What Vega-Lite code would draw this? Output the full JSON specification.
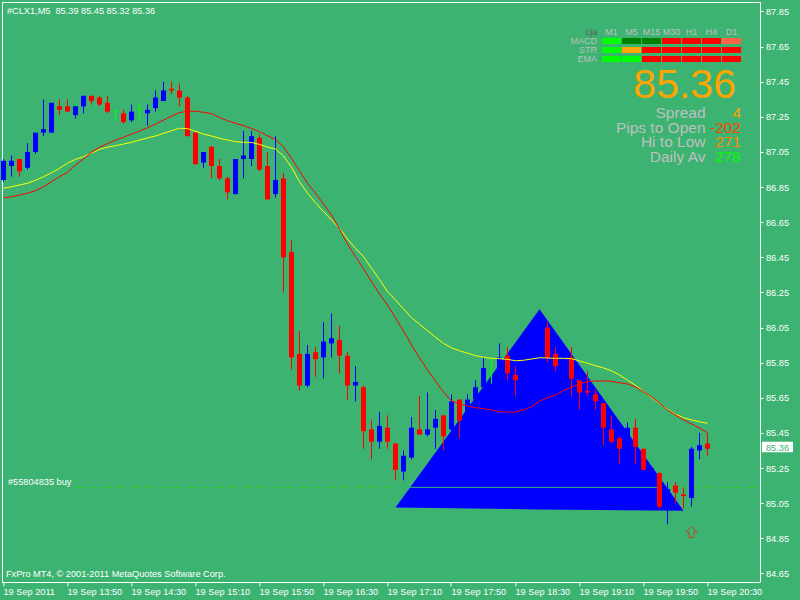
{
  "$schema": "https://vega.github.io/schema/vega-lite/v6.json",
  "width": 758,
  "height": 580,
  "autosize": {"type": "none"},
  "padding": {"left": 2, "top": 2, "right": 40, "bottom": 18},
  "background": "#3CB371",
  "config": {
    "view": {"stroke": null},
    "text": {"font": "Liberation Sans"},
    "axis": {"grid": false, "labelFont": "Liberation Sans", "labelFontSize": 9.2, "labelColor": "#FFFFFF", "domainColor": "#FFFFFF", "tickColor": "#FFFFFF", "domainWidth": 1, "tickWidth": 1}
  },
  "datasets": {
    "bars": [
      {"t":"2011-09-19T13:10","open":86.89,"high":87.01,"low":86.88,"close":87.00,"ma_fast":86.790,"ma_slow":86.843},
      {"t":"2011-09-19T13:15","open":86.97,"high":87.03,"low":86.91,"close":87.00,"ma_fast":86.795,"ma_slow":86.852},
      {"t":"2011-09-19T13:20","open":87.01,"high":87.01,"low":86.91,"close":86.94,"ma_fast":86.805,"ma_slow":86.862},
      {"t":"2011-09-19T13:25","open":86.96,"high":87.10,"low":86.95,"close":87.05,"ma_fast":86.815,"ma_slow":86.872},
      {"t":"2011-09-19T13:30","open":87.05,"high":87.16,"low":87.04,"close":87.16,"ma_fast":86.830,"ma_slow":86.889},
      {"t":"2011-09-19T13:35","open":87.16,"high":87.35,"low":87.14,"close":87.18,"ma_fast":86.852,"ma_slow":86.909},
      {"t":"2011-09-19T13:40","open":87.16,"high":87.33,"low":87.16,"close":87.33,"ma_fast":86.881,"ma_slow":86.932},
      {"t":"2011-09-19T13:45","open":87.31,"high":87.35,"low":87.26,"close":87.29,"ma_fast":86.909,"ma_slow":86.957},
      {"t":"2011-09-19T13:50","open":87.31,"high":87.35,"low":87.28,"close":87.28,"ma_fast":86.934,"ma_slow":86.986},
      {"t":"2011-09-19T13:55","open":87.26,"high":87.31,"low":87.24,"close":87.31,"ma_fast":86.976,"ma_slow":87.008},
      {"t":"2011-09-19T14:00","open":87.31,"high":87.37,"low":87.27,"close":87.37,"ma_fast":87.010,"ma_slow":87.023},
      {"t":"2011-09-19T14:05","open":87.37,"high":87.37,"low":87.32,"close":87.34,"ma_fast":87.048,"ma_slow":87.043},
      {"t":"2011-09-19T14:10","open":87.36,"high":87.37,"low":87.31,"close":87.32,"ma_fast":87.077,"ma_slow":87.065},
      {"t":"2011-09-19T14:15","open":87.33,"high":87.37,"low":87.27,"close":87.28,"ma_fast":87.097,"ma_slow":87.077},
      {"t":"2011-09-19T14:20","open":87.28,"high":87.29,"low":87.23,"close":87.28,"ma_fast":87.118,"ma_slow":87.086},
      {"t":"2011-09-19T14:25","open":87.27,"high":87.29,"low":87.21,"close":87.22,"ma_fast":87.134,"ma_slow":87.095},
      {"t":"2011-09-19T14:30","open":87.23,"high":87.32,"low":87.22,"close":87.28,"ma_fast":87.152,"ma_slow":87.105},
      {"t":"2011-09-19T14:35","open":87.29,"high":87.33,"low":87.23,"close":87.29,"ma_fast":87.169,"ma_slow":87.118},
      {"t":"2011-09-19T14:40","open":87.27,"high":87.32,"low":87.20,"close":87.29,"ma_fast":87.188,"ma_slow":87.130},
      {"t":"2011-09-19T14:45","open":87.30,"high":87.40,"low":87.28,"close":87.36,"ma_fast":87.209,"ma_slow":87.141},
      {"t":"2011-09-19T14:50","open":87.34,"high":87.45,"low":87.34,"close":87.40,"ma_fast":87.232,"ma_slow":87.156},
      {"t":"2011-09-19T14:55","open":87.41,"high":87.45,"low":87.38,"close":87.40,"ma_fast":87.255,"ma_slow":87.171},
      {"t":"2011-09-19T15:00","open":87.40,"high":87.44,"low":87.31,"close":87.36,"ma_fast":87.274,"ma_slow":87.185},
      {"t":"2011-09-19T15:05","open":87.36,"high":87.37,"low":87.14,"close":87.14,"ma_fast":87.282,"ma_slow":87.183},
      {"t":"2011-09-19T15:10","open":87.16,"high":87.16,"low":86.98,"close":86.98,"ma_fast":87.282,"ma_slow":87.168},
      {"t":"2011-09-19T15:15","open":86.99,"high":87.05,"low":86.96,"close":87.05,"ma_fast":87.276,"ma_slow":87.152},
      {"t":"2011-09-19T15:20","open":87.08,"high":87.08,"low":86.90,"close":86.97,"ma_fast":87.268,"ma_slow":87.141},
      {"t":"2011-09-19T15:25","open":86.97,"high":87.01,"low":86.89,"close":86.90,"ma_fast":87.247,"ma_slow":87.128},
      {"t":"2011-09-19T15:30","open":86.90,"high":86.91,"low":86.78,"close":86.82,"ma_fast":87.228,"ma_slow":87.118},
      {"t":"2011-09-19T15:35","open":86.81,"high":87.01,"low":86.81,"close":87.01,"ma_fast":87.213,"ma_slow":87.109},
      {"t":"2011-09-19T15:40","open":87.01,"high":87.17,"low":86.90,"close":87.03,"ma_fast":87.200,"ma_slow":87.105},
      {"t":"2011-09-19T15:45","open":87.01,"high":87.17,"low":86.97,"close":87.14,"ma_fast":87.184,"ma_slow":87.104},
      {"t":"2011-09-19T15:50","open":87.13,"high":87.15,"low":86.94,"close":86.95,"ma_fast":87.165,"ma_slow":87.093},
      {"t":"2011-09-19T15:55","open":86.97,"high":87.05,"low":86.78,"close":86.78,"ma_fast":87.142,"ma_slow":87.078},
      {"t":"2011-09-19T16:00","open":86.81,"high":87.14,"low":86.79,"close":86.89,"ma_fast":87.122,"ma_slow":87.067},
      {"t":"2011-09-19T16:05","open":86.90,"high":86.93,"low":86.25,"close":86.45,"ma_fast":87.080,"ma_slow":87.027},
      {"t":"2011-09-19T16:10","open":86.48,"high":86.55,"low":85.81,"close":85.88,"ma_fast":87.014,"ma_slow":86.963},
      {"t":"2011-09-19T16:15","open":85.90,"high":86.03,"low":85.69,"close":85.72,"ma_fast":86.943,"ma_slow":86.881},
      {"t":"2011-09-19T16:20","open":85.72,"high":85.95,"low":85.71,"close":85.90,"ma_fast":86.872,"ma_slow":86.815},
      {"t":"2011-09-19T16:25","open":85.91,"high":85.94,"low":85.77,"close":85.87,"ma_fast":86.815,"ma_slow":86.761},
      {"t":"2011-09-19T16:30","open":85.88,"high":86.08,"low":85.76,"close":85.97,"ma_fast":86.754,"ma_slow":86.710},
      {"t":"2011-09-19T16:35","open":85.96,"high":86.13,"low":85.88,"close":85.99,"ma_fast":86.691,"ma_slow":86.663},
      {"t":"2011-09-19T16:40","open":85.98,"high":86.06,"low":85.79,"close":85.89,"ma_fast":86.611,"ma_slow":86.615},
      {"t":"2011-09-19T16:45","open":85.89,"high":85.91,"low":85.64,"close":85.72,"ma_fast":86.526,"ma_slow":86.554},
      {"t":"2011-09-19T16:50","open":85.72,"high":85.83,"low":85.63,"close":85.74,"ma_fast":86.454,"ma_slow":86.501},
      {"t":"2011-09-19T16:55","open":85.71,"high":85.72,"low":85.36,"close":85.46,"ma_fast":86.385,"ma_slow":86.454},
      {"t":"2011-09-19T17:00","open":85.47,"high":85.52,"low":85.30,"close":85.40,"ma_fast":86.312,"ma_slow":86.388},
      {"t":"2011-09-19T17:05","open":85.40,"high":85.57,"low":85.36,"close":85.49,"ma_fast":86.241,"ma_slow":86.324},
      {"t":"2011-09-19T17:10","open":85.48,"high":85.55,"low":85.36,"close":85.40,"ma_fast":86.179,"ma_slow":86.254},
      {"t":"2011-09-19T17:15","open":85.39,"high":85.39,"low":85.18,"close":85.24,"ma_fast":86.105,"ma_slow":86.207},
      {"t":"2011-09-19T17:20","open":85.23,"high":85.35,"low":85.18,"close":85.32,"ma_fast":86.031,"ma_slow":86.156},
      {"t":"2011-09-19T17:25","open":85.31,"high":85.54,"low":85.30,"close":85.48,"ma_fast":85.951,"ma_slow":86.106},
      {"t":"2011-09-19T17:30","open":85.47,"high":85.66,"low":85.44,"close":85.44,"ma_fast":85.877,"ma_slow":86.069},
      {"t":"2011-09-19T17:35","open":85.44,"high":85.68,"low":85.43,"close":85.47,"ma_fast":85.808,"ma_slow":86.032},
      {"t":"2011-09-19T17:40","open":85.48,"high":85.58,"low":85.36,"close":85.53,"ma_fast":85.746,"ma_slow":85.995},
      {"t":"2011-09-19T17:45","open":85.55,"high":85.55,"low":85.35,"close":85.43,"ma_fast":85.683,"ma_slow":85.960},
      {"t":"2011-09-19T17:50","open":85.47,"high":85.67,"low":85.41,"close":85.63,"ma_fast":85.632,"ma_slow":85.935},
      {"t":"2011-09-19T17:55","open":85.64,"high":85.64,"low":85.42,"close":85.52,"ma_fast":85.615,"ma_slow":85.918},
      {"t":"2011-09-19T18:00","open":85.52,"high":85.67,"low":85.50,"close":85.64,"ma_fast":85.603,"ma_slow":85.904},
      {"t":"2011-09-19T18:05","open":85.64,"high":85.75,"low":85.61,"close":85.71,"ma_fast":85.594,"ma_slow":85.890},
      {"t":"2011-09-19T18:10","open":85.71,"high":85.88,"low":85.68,"close":85.82,"ma_fast":85.588,"ma_slow":85.881},
      {"t":"2011-09-19T18:15","open":85.80,"high":85.88,"low":85.73,"close":85.80,"ma_fast":85.581,"ma_slow":85.875},
      {"t":"2011-09-19T18:20","open":85.80,"high":85.96,"low":85.80,"close":85.88,"ma_fast":85.571,"ma_slow":85.873},
      {"t":"2011-09-19T18:25","open":85.89,"high":85.94,"low":85.75,"close":85.79,"ma_fast":85.569,"ma_slow":85.869},
      {"t":"2011-09-19T18:30","open":85.78,"high":85.83,"low":85.66,"close":85.75,"ma_fast":85.569,"ma_slow":85.861},
      {"t":"2011-09-19T18:35","open":85.75,"high":85.87,"low":85.73,"close":85.84,"ma_fast":85.581,"ma_slow":85.864},
      {"t":"2011-09-19T18:40","open":85.83,"high":85.98,"low":85.82,"close":85.95,"ma_fast":85.599,"ma_slow":85.871},
      {"t":"2011-09-19T18:45","open":85.95,"high":86.07,"low":85.92,"close":86.04,"ma_fast":85.632,"ma_slow":85.878},
      {"t":"2011-09-19T18:50","open":86.05,"high":86.08,"low":85.85,"close":85.88,"ma_fast":85.649,"ma_slow":85.877},
      {"t":"2011-09-19T18:55","open":85.90,"high":85.94,"low":85.80,"close":85.83,"ma_fast":85.666,"ma_slow":85.875},
      {"t":"2011-09-19T19:00","open":85.83,"high":85.92,"low":85.80,"close":85.88,"ma_fast":85.691,"ma_slow":85.875},
      {"t":"2011-09-19T19:05","open":85.88,"high":85.94,"low":85.66,"close":85.76,"ma_fast":85.712,"ma_slow":85.873},
      {"t":"2011-09-19T19:10","open":85.75,"high":85.75,"low":85.58,"close":85.68,"ma_fast":85.729,"ma_slow":85.860},
      {"t":"2011-09-19T19:15","open":85.69,"high":85.80,"low":85.66,"close":85.68,"ma_fast":85.742,"ma_slow":85.847},
      {"t":"2011-09-19T19:20","open":85.67,"high":85.70,"low":85.58,"close":85.63,"ma_fast":85.746,"ma_slow":85.833},
      {"t":"2011-09-19T19:25","open":85.62,"high":85.62,"low":85.38,"close":85.48,"ma_fast":85.746,"ma_slow":85.820},
      {"t":"2011-09-19T19:30","open":85.47,"high":85.55,"low":85.39,"close":85.40,"ma_fast":85.744,"ma_slow":85.804},
      {"t":"2011-09-19T19:35","open":85.42,"high":85.43,"low":85.27,"close":85.36,"ma_fast":85.736,"ma_slow":85.780},
      {"t":"2011-09-19T19:40","open":85.36,"high":85.51,"low":85.34,"close":85.48,"ma_fast":85.729,"ma_slow":85.751},
      {"t":"2011-09-19T19:45","open":85.48,"high":85.53,"low":85.27,"close":85.37,"ma_fast":85.712,"ma_slow":85.721},
      {"t":"2011-09-19T19:50","open":85.36,"high":85.36,"low":85.24,"close":85.24,"ma_fast":85.685,"ma_slow":85.687},
      {"t":"2011-09-19T19:55","open":85.22,"high":85.26,"low":85.17,"close":85.25,"ma_fast":85.655,"ma_slow":85.651},
      {"t":"2011-09-19T20:00","open":85.22,"high":85.23,"low":85.02,"close":85.03,"ma_fast":85.621,"ma_slow":85.619},
      {"t":"2011-09-19T20:05","open":85.04,"high":85.17,"low":84.93,"close":85.13,"ma_fast":85.581,"ma_slow":85.585},
      {"t":"2011-09-19T20:10","open":85.15,"high":85.17,"low":85.05,"close":85.11,"ma_fast":85.552,"ma_slow":85.556},
      {"t":"2011-09-19T20:15","open":85.10,"high":85.14,"low":85.02,"close":85.09,"ma_fast":85.524,"ma_slow":85.537},
      {"t":"2011-09-19T20:20","open":85.08,"high":85.37,"low":85.03,"close":85.36,"ma_fast":85.501,"ma_slow":85.524},
      {"t":"2011-09-19T20:25","open":85.35,"high":85.45,"low":85.30,"close":85.38,"ma_fast":85.478,"ma_slow":85.514},
      {"t":"2011-09-19T20:30","open":85.39,"high":85.45,"low":85.32,"close":85.36,"ma_fast":85.450,"ma_slow":85.505}
    ],
    "triangle": [
      {"t":"2011-09-19T17:15","top":85.026,"base":85.026},
      {"t":"2011-09-19T18:45","top":86.154,"base":85.014},
      {"t":"2011-09-19T20:15","top":85.007,"base":85.007}
    ],
    "cells": [
      {"ind":"MACD","tf":"M1","state":"up"},{"ind":"MACD","tf":"M5","state":"up_weak"},{"ind":"MACD","tf":"M15","state":"up_weak"},{"ind":"MACD","tf":"M30","state":"down"},{"ind":"MACD","tf":"H1","state":"down"},{"ind":"MACD","tf":"H4","state":"down"},{"ind":"MACD","tf":"D1","state":"down_weak"},
      {"ind":"STR","tf":"M1","state":"up"},{"ind":"STR","tf":"M5","state":"neutral"},{"ind":"STR","tf":"M15","state":"down"},{"ind":"STR","tf":"M30","state":"down"},{"ind":"STR","tf":"H1","state":"down"},{"ind":"STR","tf":"H4","state":"down"},{"ind":"STR","tf":"D1","state":"down"},
      {"ind":"EMA","tf":"M1","state":"up"},{"ind":"EMA","tf":"M5","state":"up"},{"ind":"EMA","tf":"M15","state":"down"},{"ind":"EMA","tf":"M30","state":"down"},{"ind":"EMA","tf":"H1","state":"down"},{"ind":"EMA","tf":"H4","state":"down"},{"ind":"EMA","tf":"D1","state":"down"}
    ],
    "timeframes": [{"tf":"M1"},{"tf":"M5"},{"tf":"M15"},{"tf":"M30"},{"tf":"H1"},{"tf":"H4"},{"tf":"D1"}],
    "indicators": [{"ind":"MACD"},{"ind":"STR"},{"ind":"EMA"}],
    "stats": [
      {"k":"Spread","v":"4"},
      {"k":"Pips to Open","v":"-202"},
      {"k":"Hi to Low","v":"271"},
      {"k":"Daily Av","v":"278"}
    ]
  },
  "resolve": {"scale": {"x": "independent", "y": "independent", "color": "independent"}, "axis": {"x": "independent", "y": "independent"}},
  "layer": [
    {
      "resolve": {"axis": {"x": "independent", "y": "independent"}},
      "layer": [
        {
          "data": {"values": [{}]},
          "mark": {"type": "rule", "color": "#32CD32", "strokeWidth": 1, "strokeDash": [9, 5]},
          "encoding": {
            "x": {"datum": {"year":2011,"month":9,"date":19,"hours":13,"minutes":54,"seconds":41}, "type": "temporal", "scale": {"type":"time","nice":false,"padding":0,"domain":[{"year":2011,"month":9,"date":19,"hours":13,"minutes":9,"seconds":3,"milliseconds":750},{"year":2011,"month":9,"date":19,"hours":21,"minutes":2,"seconds":48,"milliseconds":750}]}, "axis": null},
            "x2": {"datum": {"year":2011,"month":9,"date":19,"hours":21,"minutes":2,"seconds":48}},
            "y": {"datum": 85.14, "type": "quantitative", "scale": {"type":"linear","nice":false,"zero":false,"padding":0,"domain":[84.6011,87.9041]}, "axis": null}
          }
        },
        {
          "data": {"name": "triangle"},
          "mark": {"type": "area", "color": "#0000FF", "opacity": 1},
          "encoding": {
            "x": {"field": "t", "type": "temporal", "scale": {"type":"time","nice":false,"padding":0,"domain":[{"year":2011,"month":9,"date":19,"hours":13,"minutes":9,"seconds":3,"milliseconds":750},{"year":2011,"month":9,"date":19,"hours":21,"minutes":2,"seconds":48,"milliseconds":750}]}, "axis": null},
            "y": {"field": "top", "type": "quantitative", "scale": {"type":"linear","nice":false,"zero":false,"padding":0,"domain":[84.6011,87.9041]}, "axis": null},
            "y2": {"field": "base"}
          }
        },
        {
          "data": {"values": [{}]},
          "mark": {"type": "rule", "color": "#3CB371", "strokeWidth": 1},
          "encoding": {
            "x": {"datum": {"year":2011,"month":9,"date":19,"hours":17,"minutes":15}, "type": "temporal", "scale": {"type":"time","nice":false,"padding":0,"domain":[{"year":2011,"month":9,"date":19,"hours":13,"minutes":9,"seconds":3,"milliseconds":750},{"year":2011,"month":9,"date":19,"hours":21,"minutes":2,"seconds":48,"milliseconds":750}]}, "axis": null},
            "x2": {"datum": {"year":2011,"month":9,"date":19,"hours":20,"minutes":0}},
            "y": {"datum": 85.14, "type": "quantitative", "scale": {"type":"linear","nice":false,"zero":false,"padding":0,"domain":[84.6011,87.9041]}, "axis": null}
          }
        },
        {
          "data": {"name": "bars"},
          "mark": {"type": "rule", "strokeWidth": 1},
          "encoding": {
            "x": {"field": "t", "type": "temporal", "scale": {"type":"time","nice":false,"padding":0,"domain":[{"year":2011,"month":9,"date":19,"hours":13,"minutes":9,"seconds":3,"milliseconds":750},{"year":2011,"month":9,"date":19,"hours":21,"minutes":2,"seconds":48,"milliseconds":750}]},
                  "axis": {"orient": "top", "domain": true, "ticks": false, "labels": false, "title": null}},
            "y": {"field": "high", "type": "quantitative", "scale": {"type":"linear","nice":false,"zero":false,"padding":0,"domain":[84.6011,87.9041]},
                  "axis": {"orient": "left", "domain": true, "ticks": false, "labels": false, "title": null}},
            "y2": {"field": "low"},
            "color": {"condition": [{"test": "datum.close > datum.open", "value": "#0000FF"}, {"test": "datum.close < datum.open", "value": "#FF0000"}], "value": "#00FF00"}
          }
        },
        {
          "data": {"name": "bars"},
          "mark": {"type": "bar", "size": 5},
          "encoding": {
            "x": {"field": "t", "type": "temporal", "scale": {"type":"time","nice":false,"padding":0,"domain":[{"year":2011,"month":9,"date":19,"hours":13,"minutes":9,"seconds":3,"milliseconds":750},{"year":2011,"month":9,"date":19,"hours":21,"minutes":2,"seconds":48,"milliseconds":750}]},
                  "axis": {"orient": "bottom", "title": null, "translate": 0, "offset": 0.5, "tickSize": 4, "labelAlign": "left", "labelBaseline": "top", "labelPadding": 1, "labelFlush": false, "labelOverlap": false, "labelBound": false,
                           "values": [
                             {"year":2011,"month":9,"date":19,"hours":13,"minutes":10},
                             {"year":2011,"month":9,"date":19,"hours":13,"minutes":50},
                             {"year":2011,"month":9,"date":19,"hours":14,"minutes":30},
                             {"year":2011,"month":9,"date":19,"hours":15,"minutes":10},
                             {"year":2011,"month":9,"date":19,"hours":15,"minutes":50},
                             {"year":2011,"month":9,"date":19,"hours":16,"minutes":30},
                             {"year":2011,"month":9,"date":19,"hours":17,"minutes":10},
                             {"year":2011,"month":9,"date":19,"hours":17,"minutes":50},
                             {"year":2011,"month":9,"date":19,"hours":18,"minutes":30},
                             {"year":2011,"month":9,"date":19,"hours":19,"minutes":10},
                             {"year":2011,"month":9,"date":19,"hours":19,"minutes":50},
                             {"year":2011,"month":9,"date":19,"hours":20,"minutes":30}
                           ],
                           "labelExpr": "datum.index == 0 ? '19 Sep 2011' : timeFormat(datum.value, '%d %b %H:%M')"}},
            "y": {"field": "open", "type": "quantitative", "scale": {"type":"linear","nice":false,"zero":false,"padding":0,"domain":[84.6011,87.9041]},
                  "axis": {"orient": "right", "title": null, "tickSize": 3, "labelPadding": 2.5, "format": ".2f", "labelAlign": "left", "labelBaseline": "middle",
                           "values": [84.65, 84.85, 85.05, 85.25, 85.45, 85.65, 85.85, 86.05, 86.25, 86.45, 86.65, 86.85, 87.05, 87.25, 87.45, 87.65, 87.85]}},
            "y2": {"field": "close"},
            "color": {"condition": [{"test": "datum.close > datum.open", "value": "#0000FF"}, {"test": "datum.close < datum.open", "value": "#FF0000"}], "value": "#00FF00"}
          }
        },
        {
          "data": {"name": "bars"},
          "transform": [{"filter": "datum.open == datum.close"}],
          "mark": {"type": "tick", "orient": "horizontal", "size": 5, "thickness": 1, "color": "#00FF00"},
          "encoding": {
            "x": {"field": "t", "type": "temporal", "scale": {"type":"time","nice":false,"padding":0,"domain":[{"year":2011,"month":9,"date":19,"hours":13,"minutes":9,"seconds":3,"milliseconds":750},{"year":2011,"month":9,"date":19,"hours":21,"minutes":2,"seconds":48,"milliseconds":750}]}, "axis": null},
            "y": {"field": "open", "type": "quantitative", "scale": {"type":"linear","nice":false,"zero":false,"padding":0,"domain":[84.6011,87.9041]}, "axis": null}
          }
        },
        {
          "data": {"name": "bars"},
          "mark": {"type": "line", "color": "#FFFF00", "strokeWidth": 1},
          "encoding": {
            "x": {"field": "t", "type": "temporal", "scale": {"type":"time","nice":false,"padding":0,"domain":[{"year":2011,"month":9,"date":19,"hours":13,"minutes":9,"seconds":3,"milliseconds":750},{"year":2011,"month":9,"date":19,"hours":21,"minutes":2,"seconds":48,"milliseconds":750}]}, "axis": null},
            "y": {"field": "ma_slow", "type": "quantitative", "scale": {"type":"linear","nice":false,"zero":false,"padding":0,"domain":[84.6011,87.9041]}, "axis": null}
          }
        },
        {
          "data": {"name": "bars"},
          "mark": {"type": "line", "color": "#FF0000", "strokeWidth": 1},
          "encoding": {
            "x": {"field": "t", "type": "temporal", "scale": {"type":"time","nice":false,"padding":0,"domain":[{"year":2011,"month":9,"date":19,"hours":13,"minutes":9,"seconds":3,"milliseconds":750},{"year":2011,"month":9,"date":19,"hours":21,"minutes":2,"seconds":48,"milliseconds":750}]}, "axis": null},
            "y": {"field": "ma_fast", "type": "quantitative", "scale": {"type":"linear","nice":false,"zero":false,"padding":0,"domain":[84.6011,87.9041]}, "axis": null}
          }
        },
        {
          "data": {"values": [{}]},
          "mark": {"type": "point", "shape": "M0,-1L1,0L0.45,0L0.45,1L-0.45,1L-0.45,0L-1,0Z", "filled": false, "color": "#C8402A", "strokeWidth": 1, "size": 121, "opacity": 1},
          "encoding": {
            "x": {"datum": {"year":2011,"month":9,"date":19,"hours":20,"minutes":20}, "type": "temporal", "scale": {"type":"time","nice":false,"padding":0,"domain":[{"year":2011,"month":9,"date":19,"hours":13,"minutes":9,"seconds":3,"milliseconds":750},{"year":2011,"month":9,"date":19,"hours":21,"minutes":2,"seconds":48,"milliseconds":750}]}, "axis": null},
            "y": {"datum": 84.886, "type": "quantitative", "scale": {"type":"linear","nice":false,"zero":false,"padding":0,"domain":[84.6011,87.9041]}, "axis": null}
          }
        },
        {
          "data": {"values": [{}]},
          "mark": {"type": "rect", "color": "#FFFFFF"},
          "encoding": {
            "x": {"datum": {"year":2011,"month":9,"date":19,"hours":21,"minutes":4,"seconds":4}, "type": "temporal", "scale": {"type":"time","nice":false,"padding":0,"domain":[{"year":2011,"month":9,"date":19,"hours":13,"minutes":9,"seconds":3,"milliseconds":750},{"year":2011,"month":9,"date":19,"hours":21,"minutes":2,"seconds":48,"milliseconds":750}]}, "axis": null},
            "x2": {"datum": {"year":2011,"month":9,"date":19,"hours":21,"minutes":23,"seconds":26}},
            "y": {"datum": 85.400, "type": "quantitative", "scale": {"type":"linear","nice":false,"zero":false,"padding":0,"domain":[84.6011,87.9041]}, "axis": null},
            "y2": {"datum": 85.340}
          }
        },
        {
          "data": {"values": [{}]},
          "mark": {"type": "text", "text": "85.36", "align": "left", "baseline": "alphabetic", "fontSize": 9.2, "color": "#3CB371"},
          "encoding": {
            "x": {"datum": {"year":2011,"month":9,"date":19,"hours":21,"minutes":6,"seconds":34}, "type": "temporal", "scale": {"type":"time","nice":false,"padding":0,"domain":[{"year":2011,"month":9,"date":19,"hours":13,"minutes":9,"seconds":3,"milliseconds":750},{"year":2011,"month":9,"date":19,"hours":21,"minutes":2,"seconds":48,"milliseconds":750}]}, "axis": null},
            "y": {"datum": 85.349, "type": "quantitative", "scale": {"type":"linear","nice":false,"zero":false,"padding":0,"domain":[84.6011,87.9041]}, "axis": null}
          }
        },
        {
          "data": {"values": [{}]},
          "mark": {"type": "text", "text": "#CLX1,M5\u00a0 85.39 85.45 85.32 85.36", "align": "left", "baseline": "alphabetic", "fontSize": 9.2, "color": "#FFFFFF"},
          "encoding": {
            "x": {"datum": {"year":2011,"month":9,"date":19,"hours":13,"minutes":12,"seconds":11}, "type": "temporal", "scale": {"type":"time","nice":false,"padding":0,"domain":[{"year":2011,"month":9,"date":19,"hours":13,"minutes":9,"seconds":3,"milliseconds":750},{"year":2011,"month":9,"date":19,"hours":21,"minutes":2,"seconds":48,"milliseconds":750}]}, "axis": null},
            "y": {"datum": 87.836, "type": "quantitative", "scale": {"type":"linear","nice":false,"zero":false,"padding":0,"domain":[84.6011,87.9041]}, "axis": null}
          }
        },
        {
          "data": {"values": [{}]},
          "mark": {"type": "text", "text": "#55804835 buy", "align": "left", "baseline": "alphabetic", "fontSize": 9.2, "color": "#FFFFFF", "dy": -2},
          "encoding": {
            "x": {"datum": {"year":2011,"month":9,"date":19,"hours":13,"minutes":12,"seconds":49}, "type": "temporal", "scale": {"type":"time","nice":false,"padding":0,"domain":[{"year":2011,"month":9,"date":19,"hours":13,"minutes":9,"seconds":3,"milliseconds":750},{"year":2011,"month":9,"date":19,"hours":21,"minutes":2,"seconds":48,"milliseconds":750}]}, "axis": null},
            "y": {"datum": 85.14, "type": "quantitative", "scale": {"type":"linear","nice":false,"zero":false,"padding":0,"domain":[84.6011,87.9041]}, "axis": null}
          }
        },
        {
          "data": {"values": [{}]},
          "mark": {"type": "text", "text": "FxPro MT4, © 2001-2011 MetaQuotes Software Corp.", "align": "left", "baseline": "alphabetic", "fontSize": 9.2, "color": "#FFFFFF"},
          "encoding": {
            "x": {"datum": {"year":2011,"month":9,"date":19,"hours":13,"minutes":11,"seconds":34}, "type": "temporal", "scale": {"type":"time","nice":false,"padding":0,"domain":[{"year":2011,"month":9,"date":19,"hours":13,"minutes":9,"seconds":3,"milliseconds":750},{"year":2011,"month":9,"date":19,"hours":21,"minutes":2,"seconds":48,"milliseconds":750}]}, "axis": null},
            "y": {"datum": 84.628, "type": "quantitative", "scale": {"type":"linear","nice":false,"zero":false,"padding":0,"domain":[84.6011,87.9041]}, "axis": null}
          }
        },
        {
          "data": {"values": [{}]},
          "mark": {"type": "text", "text": "85.36", "align": "right", "baseline": "alphabetic", "fontSize": 41, "color": "#FFA500"},
          "encoding": {
            "x": {"datum": {"year":2011,"month":9,"date":19,"hours":20,"minutes":47,"seconds":48}, "type": "temporal", "scale": {"type":"time","nice":false,"padding":0,"domain":[{"year":2011,"month":9,"date":19,"hours":13,"minutes":9,"seconds":3,"milliseconds":750},{"year":2011,"month":9,"date":19,"hours":21,"minutes":2,"seconds":48,"milliseconds":750}]}, "axis": null},
            "y": {"datum": 87.358, "type": "quantitative", "scale": {"type":"linear","nice":false,"zero":false,"padding":0,"domain":[84.6011,87.9041]}, "axis": null}
          }
        }
      ]
    },
    {
      "layer": [
        {
          "data": {"name": "cells"},
          "mark": {"type": "rect"},
          "encoding": {
            "x": {"field": "tf", "type": "nominal", "scale": {"type": "band", "domain": ["lbl","M1","M5","M15","M30","H1","H4","D1"], "range": [580, 739], "paddingInner": 0.05, "paddingOuter": 0}, "axis": null},
            "y": {"field": "ind", "type": "nominal", "scale": {"type": "band", "domain": ["hdr","MACD","STR","EMA"], "range": [27, 60], "paddingInner": 0.3333, "paddingOuter": 0}, "axis": null},
            "color": {"field": "state", "type": "nominal", "scale": {"domain": ["up","up_weak","neutral","down","down_weak"], "range": ["#00FF00","#008000","#FFA500","#FF0000","#FF6347"]}, "legend": null}
          }
        },
        {
          "data": {"name": "timeframes"},
          "mark": {"type": "text", "align": "center", "baseline": "middle", "fontSize": 9, "color": "#C0C0C0"},
          "encoding": {
            "x": {"field": "tf", "type": "nominal"},
            "y": {"datum": "hdr", "type": "nominal"},
            "text": {"field": "tf"}
          }
        },
        {
          "data": {"values": [{}]},
          "mark": {"type": "text", "text": "cja", "align": "center", "baseline": "middle", "fontSize": 9.5, "color": "#5E5E5E"},
          "encoding": {
            "x": {"datum": "lbl", "type": "nominal"},
            "y": {"datum": "hdr", "type": "nominal"}
          }
        },
        {
          "data": {"name": "indicators"},
          "mark": {"type": "text", "align": "right", "baseline": "middle", "fontSize": 9, "color": "#C0C0C0", "dx": 5.5},
          "encoding": {
            "x": {"datum": "lbl", "type": "nominal"},
            "y": {"field": "ind", "type": "nominal"},
            "text": {"field": "ind"}
          }
        }
      ]
    },
    {
      "data": {"name": "stats"},
      "layer": [
        {
          "mark": {"type": "text", "align": "right", "baseline": "alphabetic", "fontSize": 15.5, "color": "#C0C0C0"},
          "encoding": {
            "x": {"datum": "name", "type": "nominal", "scale": {"type": "point", "domain": ["name","value"], "range": [703.5, 739], "padding": 0}, "axis": null},
            "y": {"field": "k", "type": "nominal", "scale": {"type": "point", "domain": ["Spread","Pips to Open","Hi to Low","Daily Av"], "range": [116.3, 159.7], "padding": 0}, "axis": null},
            "text": {"field": "k"}
          }
        },
        {
          "mark": {"type": "text", "align": "right", "baseline": "alphabetic", "fontSize": 15.5},
          "encoding": {
            "x": {"datum": "value", "type": "nominal"},
            "y": {"field": "k", "type": "nominal"},
            "text": {"field": "v"},
            "color": {"field": "k", "type": "nominal", "scale": {"domain": ["Spread","Pips to Open","Hi to Low","Daily Av"], "range": ["#FFA500","#FF4500","#FF8C00","#00FF00"]}, "legend": null}
          }
        }
      ]
    }
  ]
}
